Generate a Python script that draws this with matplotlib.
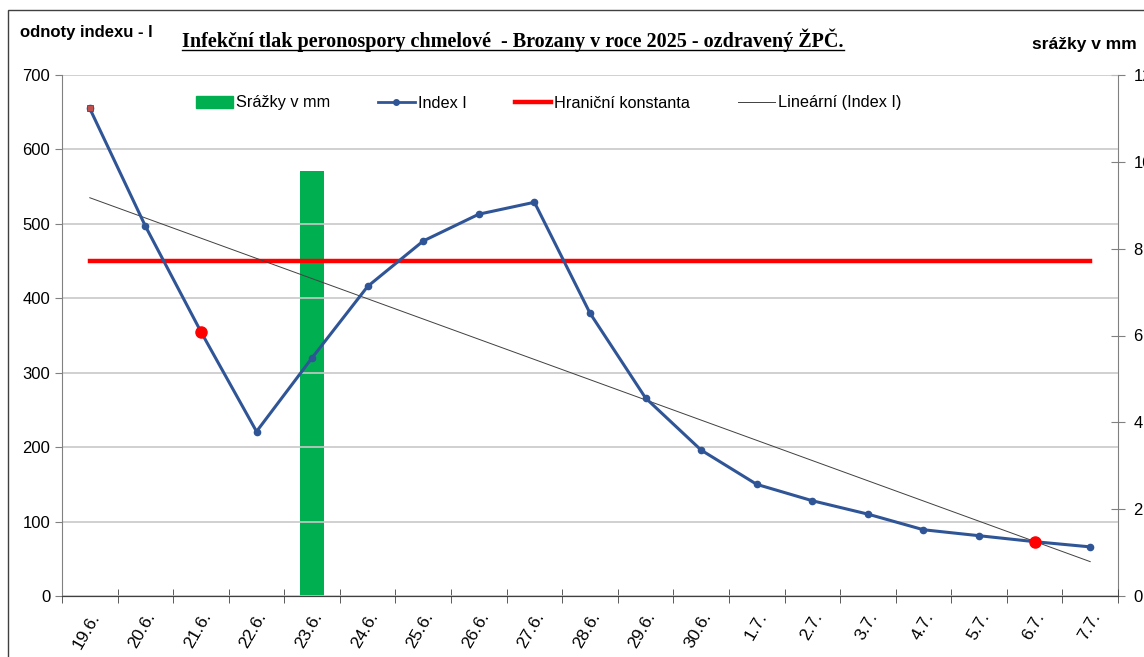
import matplotlib.pyplot as plt
import numpy as np
from matplotlib.lines import Line2D
from matplotlib.patches import Patch, Rectangle

# data
dates = ["19.6.", "20.6.", "21.6.", "22.6.", "23.6.", "24.6.", "25.6.", "26.6.", "27.6.",
         "28.6.", "29.6.", "30.6.", "1.7.", "2.7.", "3.7.", "4.7.", "5.7.", "6.7.", "7.7."]
index_i = [655, 497, 355, 221, 320, 416, 477, 513, 529,
           380, 266, 196, 150, 128, 110, 89, 81, 73, 66]
rain_mm = [0, 0, 0, 0, 9.8, 0, 0, 0, 0,
           0, 0, 0, 0, 0, 0, 0, 0, 0, 0]
limit_const = 450
red_points = [2, 17]

W, H = 1144, 657
fig = plt.figure(figsize=(W / 100, H / 100), dpi=100)
plt.rcParams["font.family"] = ["Liberation Sans", "DejaVu Sans"]

ax = fig.add_axes([62 / W, 1 - 596 / H, (1118 - 62) / W, (596 - 75) / H])
ax2 = ax.twinx()
ax.set_zorder(ax2.get_zorder() + 1)
ax.patch.set_visible(False)

x = np.arange(len(dates))
blue = "#2F5597"

# bars on secondary axis
ax2.bar(x, rain_mm, width=0.43, color="#00B050", zorder=2)
ax2.set_ylim(0, 12)
ax2.set_yticks(range(0, 13, 2))

# index line
ax.plot(x, index_i, color=blue, lw=2.2, marker="o", ms=4.5, zorder=4)
ax.plot(x[0], index_i[0], marker="s", ms=5, color="#C0504D", mec=blue, mew=0.6, zorder=5)
ax.plot(x[red_points], np.array(index_i)[red_points], "o", color="red", ms=8, zorder=5)

# constant
ax.plot(x, [limit_const] * len(x), color="red", lw=3.2, zorder=3)

# linear trend
k, q = np.polyfit(x, index_i, 1)
ax.plot(x, k * x + q, color="#404040", lw=0.7, zorder=3)

ax.set_xlim(-0.5, len(x) - 0.5)
ax.set_ylim(0, 700)
ax.set_yticks(range(0, 701, 100))
ax.grid(axis="y", color="#C8C8C8", lw=1.2)
ax.set_axisbelow(True)

ax.set_xticks(x)
ax.set_xticklabels(dates, rotation=60, ha="right", va="top", rotation_mode="anchor", fontsize=12.5)
ax.tick_params(axis="x", which="major", length=0, pad=10)
ax.set_xticks(np.arange(-0.5, len(x), 1), minor=True)
ax.tick_params(axis="x", which="minor", length=10, direction="inout", color="#404040")
ax.tick_params(axis="y", length=5, direction="out", labelsize=12, color="#808080")
ax2.tick_params(axis="y", length=10, direction="inout", labelsize=12, color="#808080", pad=6)

for a in (ax, ax2):
    a.spines["top"].set_visible(False)
    a.spines["left"].set_color("#808080")
    a.spines["right"].set_color("#808080")
    a.spines["bottom"].set_color("#404040")
ax2.spines["left"].set_visible(False)
ax.spines["right"].set_visible(False)

handles = [
    Patch(color="#00B050"),
    Line2D([], [], color=blue, lw=2.0, marker="o", ms=4),
    Line2D([], [], color="red", lw=3.2),
    Line2D([], [], color="#404040", lw=0.7),
]
labels = ["Srážky v mm", "Index I", "Hraniční konstanta", "Lineární (Index I)"]
fig.legend(handles, labels, loc="center left", bbox_to_anchor=(196 / W, 1 - 103 / H), ncol=4,
           frameon=False, fontsize=11.7, handlelength=2.25, handletextpad=0.2,
           columnspacing=2.95, borderpad=0, borderaxespad=0)

# texts
fig.text(20 / W, 1 - 32 / H, "odnoty indexu - l", fontsize=12, fontweight="semibold",
         va="center", ha="left")
fig.text(1032 / W, 1 - 45 / H, "srážky v mm", fontsize=12.5, fontweight="semibold",
         va="center", ha="left")
title = fig.text(513 / W, 1 - 40 / H,
                 "Infekční tlak peronospory chmelové  - Brozany v roce 2025 - ozdravený ŽPČ.",
                 fontsize=14.5, fontweight="bold", family=["Liberation Serif", "DejaVu Serif"],
                 ha="center", va="center")

# underline under the title
fig.canvas.draw()
bb = title.get_window_extent().transformed(fig.transFigure.inverted())
fig.add_artist(Line2D([bb.x0, bb.x1], [bb.y0 + 0.002, bb.y0 + 0.002], color="black", lw=1.0,
                      transform=fig.transFigure))

# chart area border
fig.add_artist(Rectangle((8 / W, -0.1), 1.2, 1 - 10 / H + 0.1, fill=False, ec="#404040",
                         lw=1.0, transform=fig.transFigure))

fig.savefig("out.png", dpi=100)
